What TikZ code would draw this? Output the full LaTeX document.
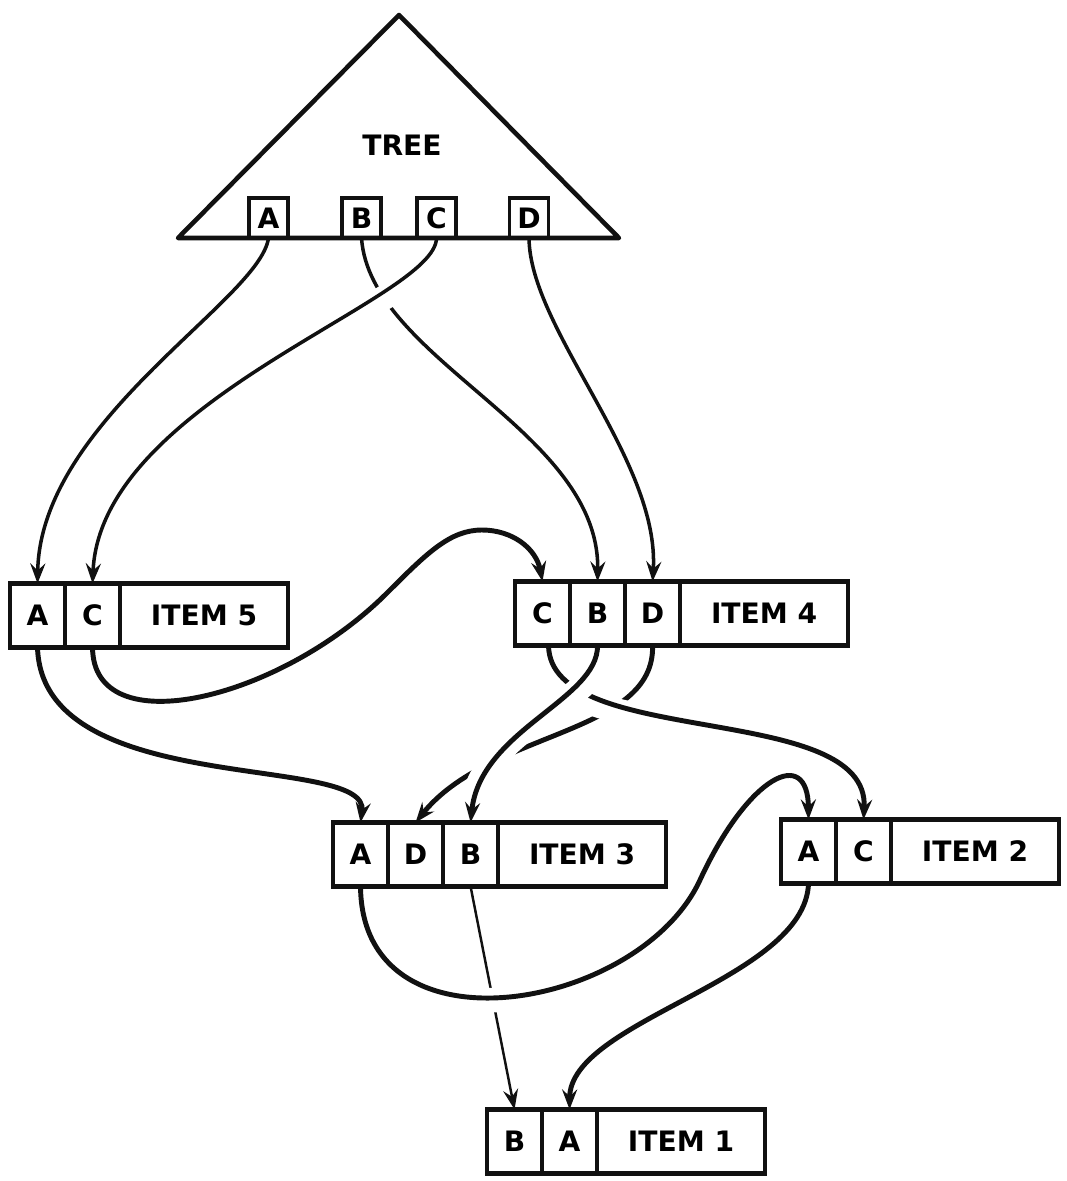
\documentclass[tikz,border=0pt]{standalone}
\usepackage{fontspec}
\setmainfont{DejaVu Sans}
\usetikzlibrary{arrows.meta,positioning}
\usepackage{xcolor}
\definecolor{ink}{HTML}{111111}
\tikzset{
  cell/.style={draw=ink, line width=1.2pt, outer sep=0pt, inner sep=0pt, minimum height=6.4mm, font=\bfseries\fontsize{8}{9}\selectfont},
  keycell/.style={cell, minimum width=5.5mm},
  namecell/.style={cell, minimum width=16.8mm},
  treekey/.style={draw=ink, line width=1pt, outer sep=0pt, inner sep=0pt, minimum width=3.9mm, minimum height=4mm, anchor=south, font=\bfseries\fontsize{8}{9}\selectfont},
  link/.style={-{Stealth[length=2mm,width=1.5mm,inset=0.7mm]}, line width=1pt, draw=ink},
  heavylink/.style={link, line width=1.4pt},
  thinlink/.style={link, line width=0.7pt},
  over/.style={preaction={draw=white, line width=7pt, arrows=-, shorten <=4pt, shorten >=4pt}}
}

\begin{document}
\begin{tikzpicture}[x=0.01cm, y=-0.01cm]
  \useasboundingbox (0,0) rectangle (1067,1181);
  \draw[draw=ink, line width=1.3pt, line join=round] (399,15) -- (178,238) -- (619,238) -- cycle;
  \node[font=\bfseries\fontsize{8}{9}\selectfont] (treename) at (402,145) {TREE};
  \node[treekey] (tA) at (268.5,238) {A};
  \node[treekey] (tB) at (361.5,238) {B};
  \node[treekey] (tC) at (436.5,238) {C};
  \node[treekey] (tD) at (529,238) {D};

  \node[keycell, anchor=west] (i5A) at (10,615.5) {A};
  \node[keycell, right=0pt of i5A] (i5C) {C};
  \node[namecell, right=0pt of i5C] (i5L) {ITEM 5};

  \node[keycell, anchor=west] (i4C) at (515,613.5) {C};
  \node[keycell, right=0pt of i4C] (i4B) {B};
  \node[keycell, right=0pt of i4B] (i4D) {D};
  \node[namecell, right=0pt of i4D] (i4L) {ITEM 4};

  \node[keycell, anchor=west] (i3A) at (333,854.5) {A};
  \node[keycell, right=0pt of i3A] (i3D) {D};
  \node[keycell, right=0pt of i3D] (i3B) {B};
  \node[namecell, right=0pt of i3B] (i3L) {ITEM 3};

  \node[keycell, anchor=west] (i2A) at (781,851.5) {A};
  \node[keycell, right=0pt of i2A] (i2C) {C};
  \node[namecell, right=0pt of i2C] (i2L) {ITEM 2};

  \node[keycell, anchor=west] (i1B) at (487,1141.5) {B};
  \node[keycell, right=0pt of i1B] (i1A) {A};
  \node[namecell, right=0pt of i1A] (i1L) {ITEM 1};

  \draw[link] (tA.south) .. controls (260,300) and (40,420) .. (i5A.north);
  \draw[link] (tB.south) .. controls (370,360) and (600,430) .. (i4B.north);
  \draw[link, over] (tC.south) .. controls (436,300) and (100,400) .. (i5C.north);
  \draw[link] (tD.south) .. controls (530,330) and (660,460) .. (i4D.north);

  \draw[heavylink] (i5C.south) .. controls (93,745) and (280,700) .. (387,593)
    .. controls (427,553) and (450,530) .. (482,530)
    .. controls (512,530) and (536,548) .. (i4C.north);
  \draw[heavylink] (i5A.south) .. controls (42,800) and (370,752) .. (i3A.north);

  \draw[heavylink] (i4D.south) .. controls (655,735) and (490,730) .. (i3D.north);
  \draw[heavylink, over] ([xshift=0.6mm]i4C.south) .. controls (550,750) and (870,700) .. (i2C.north);
  \draw[heavylink, over] (i4B.south) .. controls (598,700) and (480,730) .. (i3B.north);

  \draw[thinlink] (i3B.south) -- (i1B.north);
  \draw[heavylink, over] (i3A.south) .. controls (362,1060) and (640,1010) .. (700,880) .. controls (748,776) and (808,745) .. (i2A.north);
  \draw[heavylink] (i2A.south) .. controls (805,980) and (570,1020) .. (i1A.north);
\end{tikzpicture}
\end{document}
